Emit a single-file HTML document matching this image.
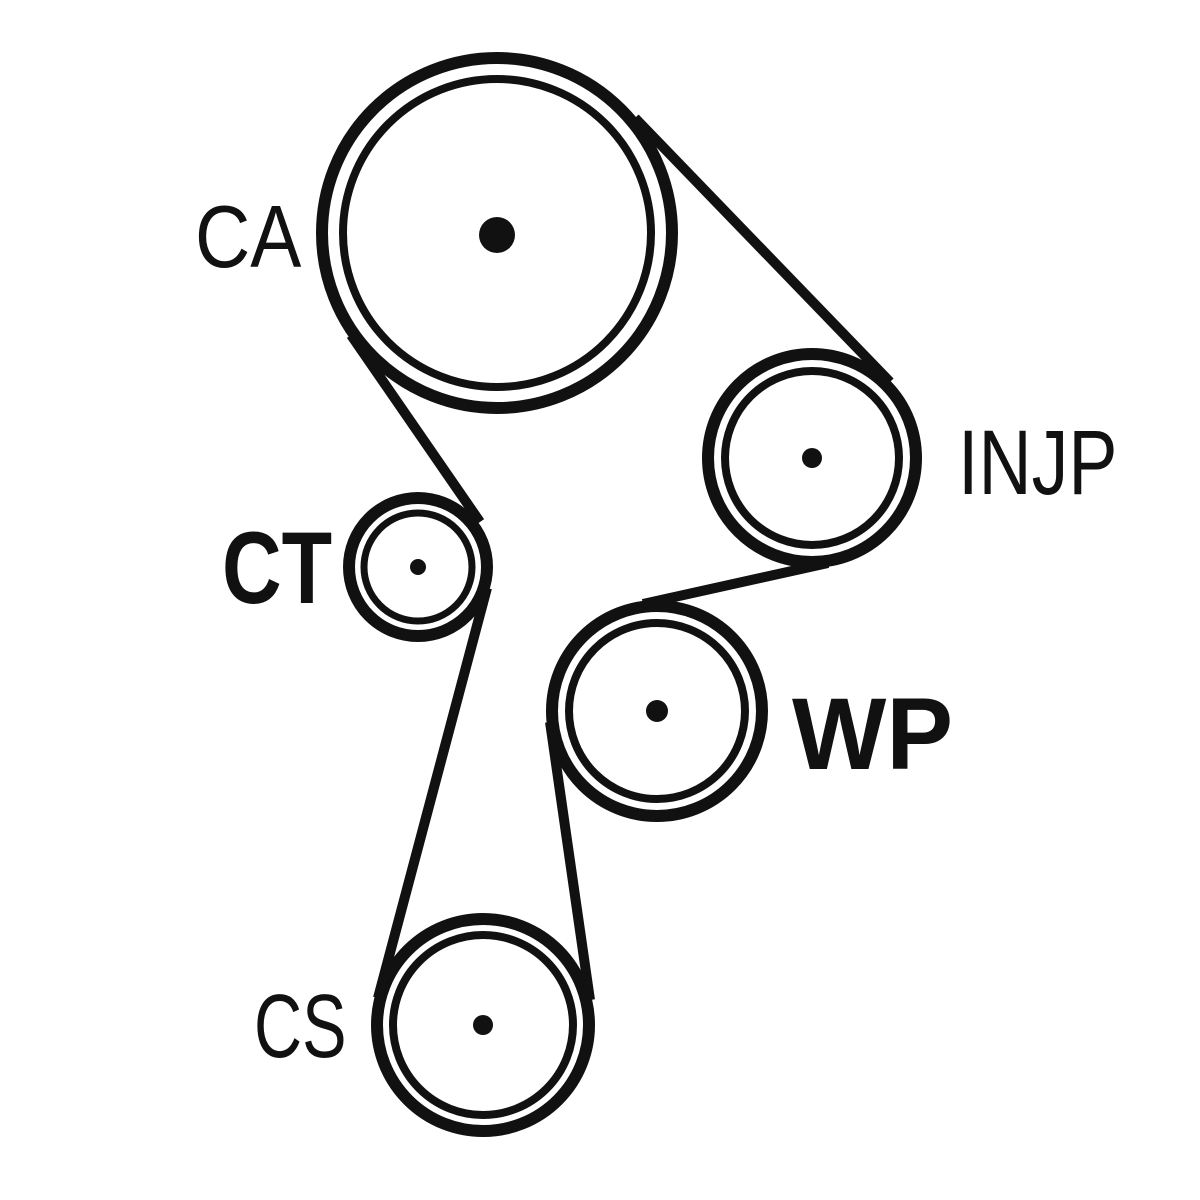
<!DOCTYPE html>
<html><head><style>body{margin:0;background:#fff}svg{display:block}</style></head>
<body>
<svg width="1200" height="1200" viewBox="0 0 1200 1200" xmlns="http://www.w3.org/2000/svg">
<g fill="none" stroke="#111" stroke-width="12">
<circle cx="497" cy="233" r="175"/>
<circle cx="497" cy="233" r="154" stroke-width="8"/>
<circle cx="812" cy="458" r="104"/>
<circle cx="812" cy="458" r="87" stroke-width="8"/>
<circle cx="418" cy="567" r="69"/>
<circle cx="418" cy="567" r="54" stroke-width="7"/>
<circle cx="657" cy="711" r="105"/>
<circle cx="657" cy="711" r="88" stroke-width="8"/>
<circle cx="483" cy="1025" r="106"/>
<circle cx="483" cy="1025" r="90" stroke-width="8"/>
<line x1="351" y1="335" x2="480" y2="522" stroke-width="10"/>
<line x1="635" y1="118" x2="890" y2="382" stroke-width="10"/>
<line x1="828" y1="563" x2="643" y2="604" stroke-width="10"/>
<line x1="487" y1="588" x2="378" y2="998" stroke-width="10"/>
<line x1="550" y1="722" x2="590" y2="1000" stroke-width="10"/>
</g>
<g fill="#111">
<circle cx="497" cy="235" r="18"/>
<circle cx="812" cy="458" r="10"/>
<circle cx="418" cy="567" r="8"/>
<circle cx="657" cy="711" r="11"/>
<circle cx="483" cy="1025" r="10"/>
</g>
<g font-family="Liberation Sans, sans-serif" fill="#111">
<text x="195" y="267" font-size="88" transform="translate(195 0) scale(0.87 1) translate(-195 0)">CA</text>
<text x="958" y="494" font-size="92" transform="translate(958 0) scale(0.8 1) translate(-958 0)">INJP</text>
<text x="222" y="603" font-size="102" font-weight="bold" transform="translate(222 0) scale(0.81 1) translate(-222 0)">CT</text>
<text x="792" y="769" font-size="102" font-weight="bold" transform="translate(792 0) scale(0.98 1) translate(-792 0)">WP</text>
<text x="254" y="1057" font-size="90" transform="translate(254 0) scale(0.74 1) translate(-254 0)">CS</text>
</g>
</svg>
</body></html>
